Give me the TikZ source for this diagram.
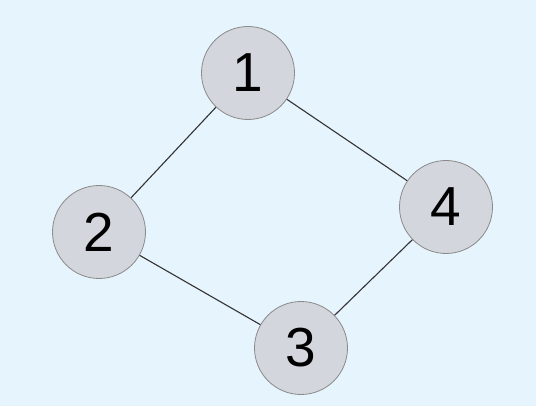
\documentclass[tikz,border=0pt]{standalone}
\usepackage{fontspec}
\setmainfont{Liberation Sans}
\usepackage{tikz}
\definecolor{bgblue}{HTML}{E6F4FD}
\definecolor{nodegray}{HTML}{D3D6DC}
\definecolor{rimgray}{HTML}{8A8A8A}
\definecolor{edgegray}{HTML}{333333}

\begin{document}
\begin{tikzpicture}[
    x=1pt, y=-1pt,
    vertex/.style={circle, draw=rimgray, fill=nodegray, line width=0.8pt, minimum size=93pt, inner sep=0pt, font=\fontsize{55}{55}\selectfont},
    link/.style={draw=edgegray, line width=1.1pt}
]
\fill[bgblue] (0,0) rectangle (536,406);
\useasboundingbox (0,0) rectangle (536,406);

\node[vertex] (v1) at (248,73) {1};
\node[vertex] (v2) at (99,232) {2};
\node[vertex] (v3) at (301,348) {3};
\node[vertex] (v4) at (446,207) {4};

\draw[link] (v1) -- (v2);
\draw[link] (v1) -- (v4);
\draw[link] (v2) -- (v3);
\draw[link] (v3) -- (v4);
\end{tikzpicture}
\end{document}
